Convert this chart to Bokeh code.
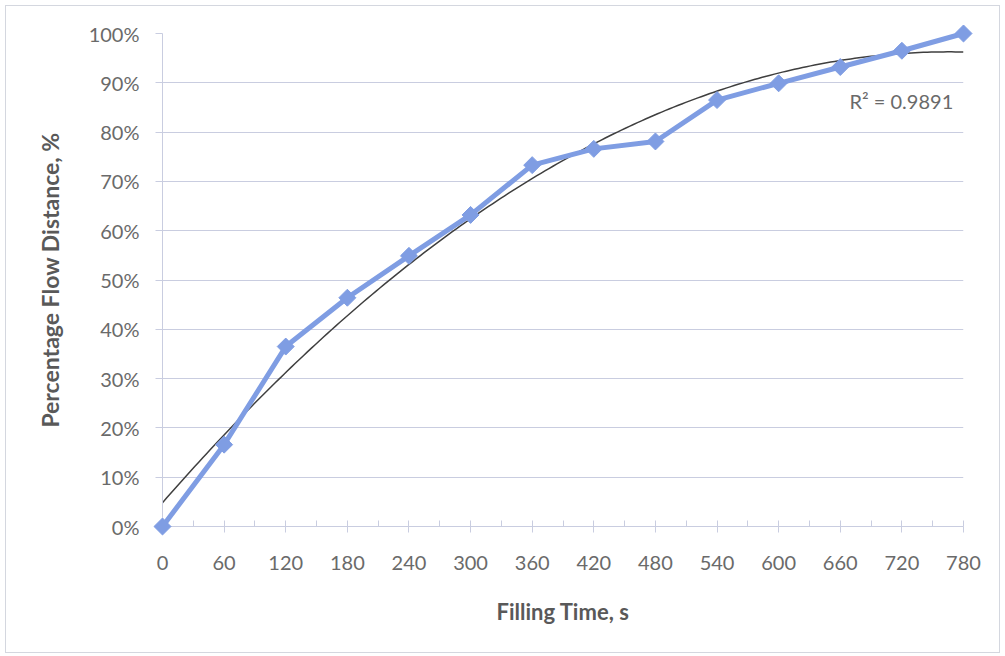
import numpy as np
from bokeh.plotting import figure
from bokeh.layouts import column
from bokeh.models import (SingleIntervalTicker, NumeralTickFormatter, Range1d, Label,
                          ColumnDataSource)
from bokeh.embed import file_html
from bokeh.resources import INLINE

# Data
time_s = [0, 60, 120, 180, 240, 300, 360, 420, 480, 540, 600, 660, 720, 780]
flow_pct = [0.0, 16.6, 36.5, 46.4, 54.9, 63.2, 73.3, 76.6, 78.1, 86.5, 89.9, 93.2, 96.5, 100.0]
r2_text = "R\u00b2 = 0.9891"
x_title = "Filling Time, s"
y_title = "Percentage Flow Distance, %"

flow_frac = [v / 100.0 for v in flow_pct]

# second-order polynomial trendline fitted to the data
coef = np.polyfit(time_s, flow_frac, 2)
trend_x = np.linspace(min(time_s), max(time_s), 200)
trend_y = np.polyval(coef, trend_x)

FONT = "Lato"
TICK_COLOR = "#6a6a6a"
TITLE_COLOR = "#595959"
GRID_COLOR = "#c9cde0"
LINE_COLOR = "#7f9de3"

p = figure(width=993, height=646, output_backend="svg", toolbar_location=None,
           x_range=Range1d(0, 780), y_range=Range1d(0, 1),
           min_border_left=156, min_border_right=36, min_border_top=27, min_border_bottom=126)
p.background_fill_color = "white"
p.border_fill_color = "white"
p.outline_line_color = None

src = ColumnDataSource(dict(x=time_s, y=flow_frac))
p.line(x=trend_x, y=trend_y, line_color="#3f3f3f", line_width=1.5)
p.line("x", "y", source=src, line_color=LINE_COLOR, line_width=5, level="overlay")
p.scatter("x", "y", source=src, marker="square", angle=np.pi / 4, size=12,
          fill_color=LINE_COLOR, line_color=LINE_COLOR, level="overlay")

p.add_layout(Label(x=770, y=0.864, text=r2_text, text_align="right", text_baseline="middle",
                   text_font=FONT, text_font_size="20px", text_color=TICK_COLOR))

# x axis
xa = p.xaxis[0]
xa.ticker = SingleIntervalTicker(interval=60, num_minor_ticks=2)
xa.axis_line_color = GRID_COLOR
xa.major_tick_line_color = GRID_COLOR
xa.minor_tick_line_color = GRID_COLOR
xa.major_tick_out = 6
xa.major_tick_in = 0
xa.minor_tick_out = 0
xa.minor_tick_in = 6
xa.major_label_standoff = 23
xa.major_label_text_font = FONT
xa.major_label_text_font_size = "20px"
xa.major_label_text_color = TICK_COLOR
xa.axis_label = x_title
xa.axis_label_text_font = FONT
xa.axis_label_text_font_style = "bold"
xa.axis_label_text_font_size = "22px"
xa.axis_label_text_color = TITLE_COLOR
xa.axis_label_standoff = 25

# y axis
ya = p.yaxis[0]
ya.ticker = SingleIntervalTicker(interval=0.1, num_minor_ticks=0)
ya.formatter = NumeralTickFormatter(format="0%")
ya.axis_line_color = GRID_COLOR
ya.major_tick_line_color = GRID_COLOR
ya.major_tick_out = 7
ya.major_tick_in = 0
ya.minor_tick_line_color = None
ya.major_label_standoff = 16
ya.major_label_text_font = FONT
ya.major_label_text_font_size = "20px"
ya.major_label_text_color = TICK_COLOR
ya.axis_label = y_title
ya.axis_label_text_font = FONT
ya.axis_label_text_font_style = "bold"
ya.axis_label_text_font_size = "23px"
ya.axis_label_text_color = TITLE_COLOR
ya.axis_label_standoff = 22

p.xgrid.grid_line_color = None
p.ygrid.grid_line_color = GRID_COLOR
p.ygrid.grid_line_width = 1

layout = column(p, styles={"border": "1px solid #d4d7df", "margin-left": "5px",
                           "margin-top": "5px"})

open("out.html", "w").write(file_html(layout, INLINE))
